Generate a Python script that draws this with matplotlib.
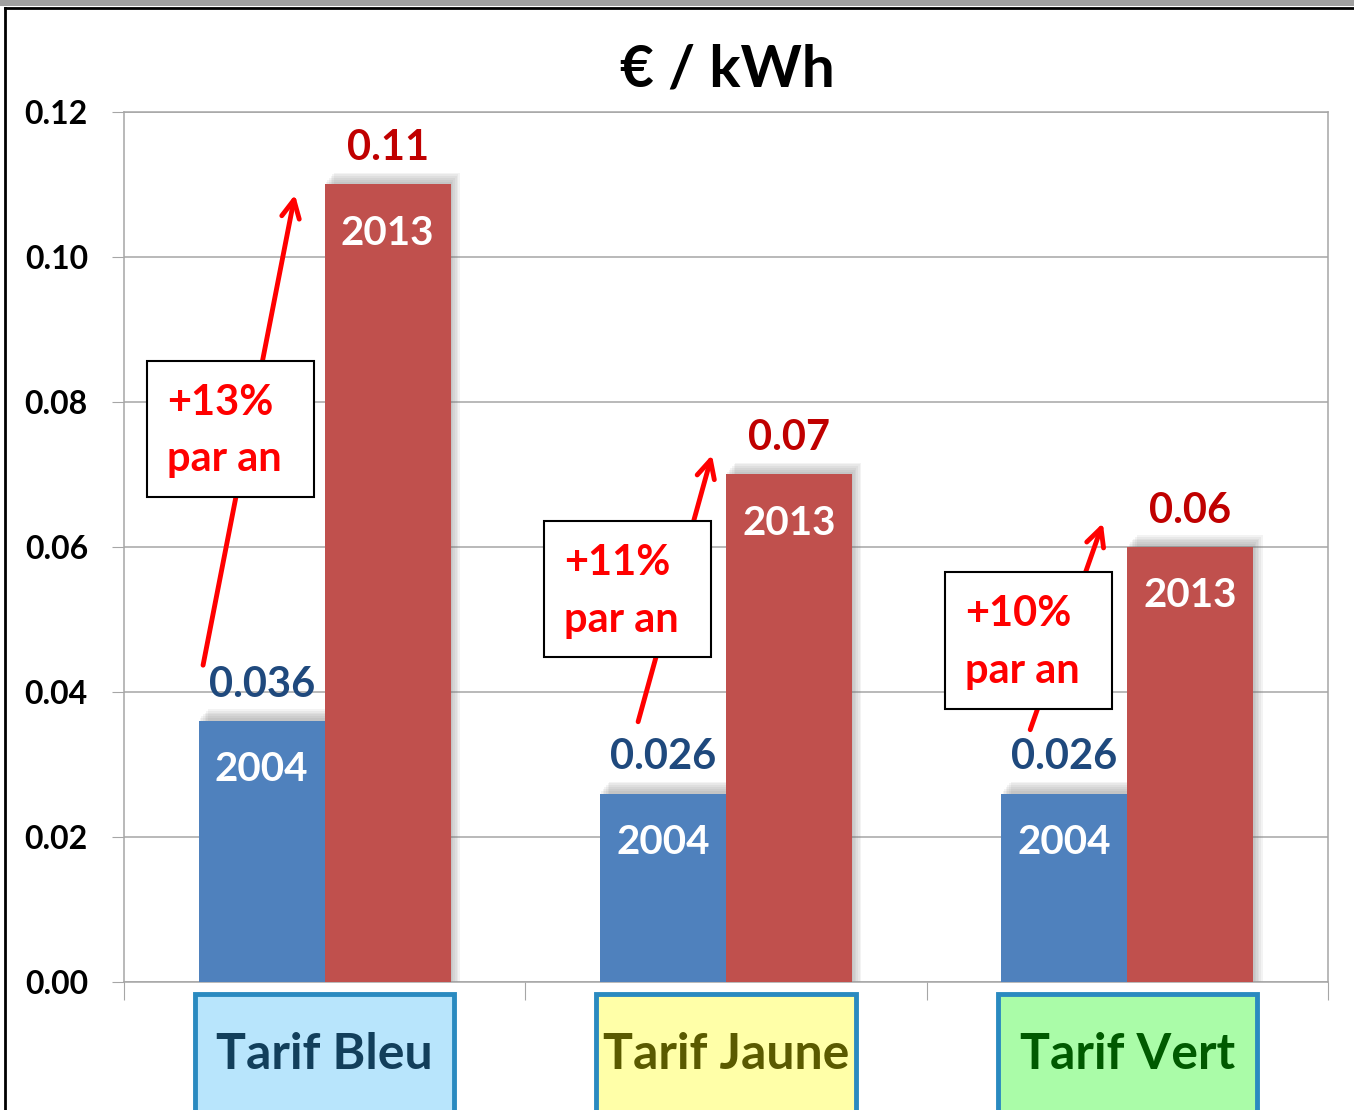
import matplotlib
matplotlib.use("Agg")
import matplotlib.pyplot as plt
import matplotlib.transforms as mtransforms
from matplotlib.lines import Line2D
from matplotlib.patches import Rectangle
import numpy as np

plt.rcParams["font.family"] = ["Lato", "DejaVu Sans"]
plt.rcParams["font.weight"] = "bold"

categories = ["Tarif Bleu", "Tarif Jaune", "Tarif Vert"]
values_2004 = [0.036, 0.026, 0.026]
values_2013 = [0.11, 0.07, 0.06]
labels_2004 = ["0.036", "0.026", "0.026"]
labels_2013 = ["0.11", "0.07", "0.06"]
growth = ["+13%", "+11%", "+10%"]
yticks = [0.00, 0.02, 0.04, 0.06, 0.08, 0.10, 0.12]

box_fill = ["#B8E5FC", "#FFFFA8", "#AAFCA8"]
box_text = ["#123F5B", "#5A5A00", "#005A00"]

BLUE = "#4F81BD"
RED = "#C0504D"
GRID = "#A6A6A6"

# annotation layout (data coords): arrow start/end, box lower-left
arrow_start = [(0.197, 0.0437), (1.281, 0.0359), (2.258, 0.0348)]
arrow_end = [(0.426, 0.1086), (1.465, 0.0727), (2.439, 0.0633)]
box_ll = [(0.057, 0.0669), (1.047, 0.0448), (2.046, 0.0377)]
box_w, box_h = 0.416, 0.0188

fig = plt.figure(figsize=(13.54, 11.10), dpi=100)
ax = fig.add_axes([124 / 1354, 1 - 982 / 1110, (1328 - 124) / 1354, (982 - 112) / 1110])

x = np.arange(len(categories)) + 0.5
w = 0.314

# soft shadow behind bars
for k in range(6):
    off = 0.003 + 0.004 * k
    ax.bar(x - w / 2 + off, np.array(values_2004) + 0.0004 + 0.00025 * k, w,
           color="#707070", alpha=0.08, zorder=2, linewidth=0)
    ax.bar(x + w / 2 + off, np.array(values_2013) + 0.0004 + 0.00025 * k, w,
           color="#707070", alpha=0.08, zorder=2, linewidth=0)

ax.bar(x - w / 2, values_2004, w, color=BLUE, zorder=3, linewidth=0)
ax.bar(x + w / 2, values_2013, w, color=RED, zorder=3, linewidth=0)

trans = mtransforms.blended_transform_factory(ax.transData, ax.transAxes)

for i in range(len(categories)):
    ax.annotate(labels_2004[i], (x[i] - w / 2, values_2004[i]), xytext=(0, 26),
                textcoords="offset points", ha="center", va="center",
                fontsize=30, fontweight="bold", color="#1F497D", zorder=6)
    ax.annotate(labels_2013[i], (x[i] + w / 2, values_2013[i]), xytext=(0, 26),
                textcoords="offset points", ha="center", va="center",
                fontsize=30, fontweight="bold", color="#C00000", zorder=6)
    ax.annotate("2004", (x[i] - w / 2, values_2004[i]), xytext=(0, -35),
                textcoords="offset points", ha="center", va="center",
                fontsize=29, fontweight="bold", color="white", zorder=6)
    ax.annotate("2013", (x[i] + w / 2, values_2013[i]), xytext=(0, -35),
                textcoords="offset points", ha="center", va="center",
                fontsize=29, fontweight="bold", color="white", zorder=6)

    # growth arrow and box
    ax.annotate("", xy=arrow_end[i], xytext=arrow_start[i],
                arrowprops=dict(arrowstyle="->", color="#FF0000", lw=3.5,
                                mutation_scale=32, shrinkA=0, shrinkB=0),
                zorder=4)
    bx, by = box_ll[i]
    ax.add_patch(Rectangle((bx, by), box_w, box_h, facecolor="white",
                           edgecolor="black", linewidth=1.5, zorder=5))
    ax.text(bx + 0.05, by + box_h / 2 - 0.0003, f"{growth[i]}\npar an", ha="left",
            va="center", fontsize=30, fontweight="bold", color="#FF0000",
            linespacing=1.6, zorder=6)

    # category label boxes below the axis
    ax.add_patch(Rectangle((x[i] - 0.323, -0.16), 0.646, 0.146, transform=trans,
                           facecolor=box_fill[i], edgecolor="#2A8AC0",
                           linewidth=3.5, clip_on=False, zorder=5))
    ax.text(x[i], -0.083, categories[i], transform=trans, ha="center",
            va="center", fontsize=36, fontweight="bold", color=box_text[i],
            clip_on=False, zorder=6)

ax.set_xlim(0, 3)
ax.set_ylim(0, 0.12)
ax.set_yticks(yticks)
ax.set_yticklabels([f"{t:.2f}" for t in yticks], fontsize=23, fontweight="bold")
ax.set_xticks([0, 1, 2, 3])
ax.set_xticklabels([])
ax.tick_params(axis="y", length=9, color=GRID, pad=17)
ax.tick_params(axis="x", length=13, color=GRID)
ax.grid(axis="y", color=GRID, linewidth=1.1, zorder=0)
ax.set_axisbelow(True)
for s in ax.spines.values():
    s.set_color(GRID)
    s.set_linewidth(1.1)

fig.text(727 / 1354, 1 - 70 / 1110, "€ / kWh", ha="center", va="center",
         fontsize=42, fontweight="bold", color="black")

# outer frame (top and left edges)
fig.patches.append(Rectangle((0, 1 - 6 / 1110), 1, 6 / 1110, transform=fig.transFigure,
                             facecolor="#A0A0A0", edgecolor="none"))
fig.lines.append(Line2D([5 / 1354, 1], [1 - 8 / 1110, 1 - 8 / 1110],
                        transform=fig.transFigure, color="black", lw=2))
fig.lines.append(Line2D([5 / 1354, 5 / 1354], [0, 1 - 8 / 1110],
                        transform=fig.transFigure, color="black", lw=2))

fig.savefig("out.png", dpi=100)
